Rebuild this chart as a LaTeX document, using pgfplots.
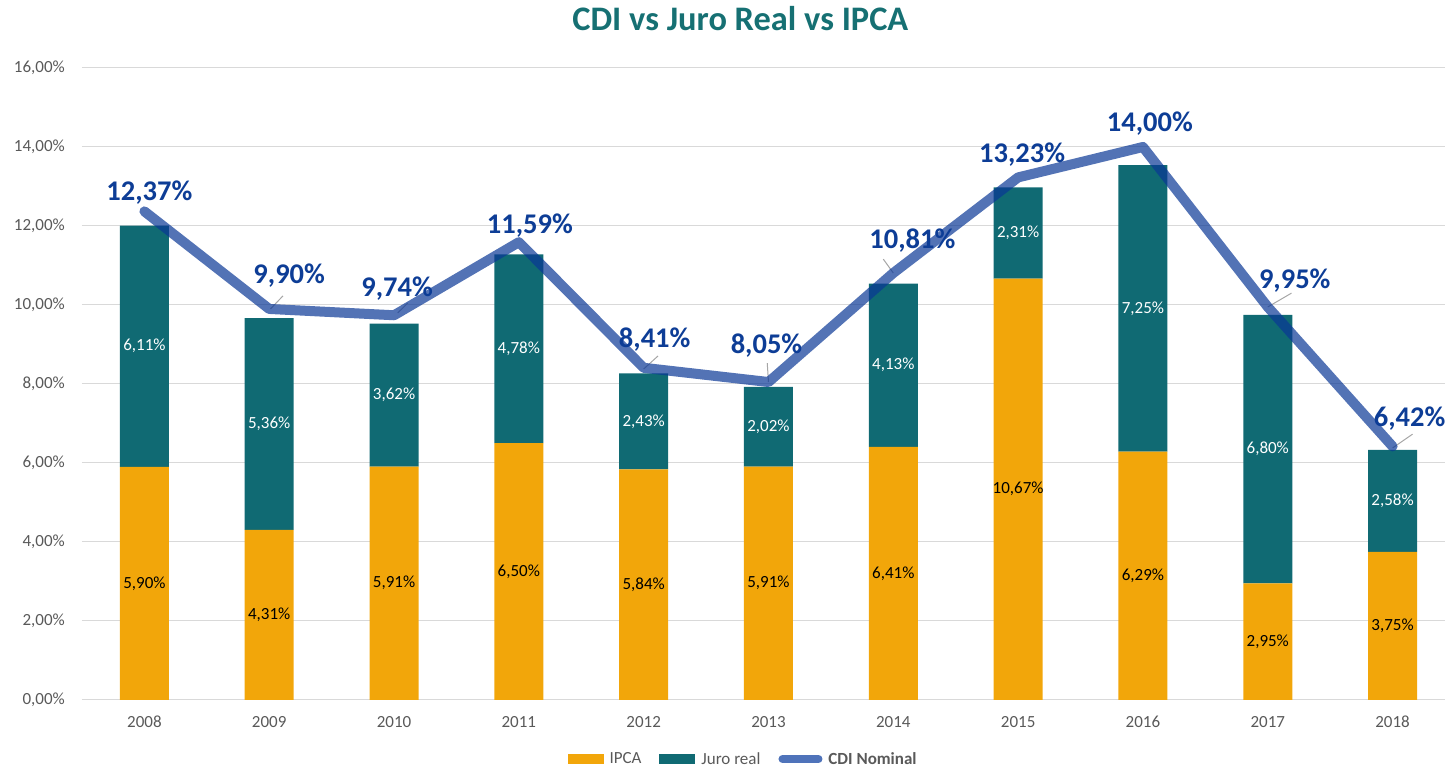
\documentclass[border=0pt]{standalone}
\usepackage{pgfplots}
\pgfplotsset{compat=1.18}
\usepackage{pgfplotstable}
\usepackage{fontspec}
\setmainfont{Carlito}

\definecolor{ipcaC}{RGB}{242,166,10}
\definecolor{juroC}{RGB}{16,106,115}
\definecolor{cdiC}{RGB}{10,55,150}
\definecolor{cdiLeg}{RGB}{79,115,186}
\definecolor{cdiLab}{RGB}{13,61,150}
\definecolor{titleC}{RGB}{22,112,115}
\definecolor{gridC}{RGB}{217,217,217}
\definecolor{txtC}{RGB}{89,89,89}
\definecolor{leadC}{RGB}{166,166,166}

% dx, dy: label offset from the CDI point (pt)
\pgfplotstableread{
x ipca juro cdi dx dy
0 5.90 6.11 12.37 5 19
1 4.31 5.36 9.90 20 33
2 5.91 3.62 9.74 3 27
3 6.50 4.78 11.59 11 17
4 5.84 2.43 8.41 11 28
5 5.91 2.02 8.05 -2 36
6 6.41 4.13 10.81 19 32
7 10.67 2.31 13.23 4 23
8 6.29 7.25 14.00 7 23
9 2.95 6.80 9.95 27 26
10 3.75 2.58 6.42 17 28
}\data

\pgfplotsset{
  /pgf/number format/.cd, fixed, fixed zerofill, precision=2, use comma, assume math mode=true,
  /pgfplots/.cd,
  base/.style={
    scale only axis, width=1363pt, height=632pt,
    at={(0pt,0pt)}, anchor=south west,
    xmin=-0.5, xmax=10.42, ymin=0, ymax=16,
    clip=false,
  },
  vlabels/.style={point meta=explicit,
    nodes near coords={\pgfmathprintnumber{\pgfplotspointmeta}\%}},
  leader/.style={leadC, line width=1pt, mark=none, forget plot},
}

\begin{document}
\begin{tikzpicture}
\begin{axis}[
    base,
    ybar stacked,
    bar width=49pt,
    axis line style={draw=none},
    major tick length=0pt,
    ymajorgrids=true,
    grid style={gridC, line width=1pt},
    ytick={0,2,...,16},
    yticklabel={\pgfmathprintnumber{\tick}\%},
    xtick={0,...,10},
    xticklabels={2008,2009,2010,2011,2012,2013,2014,2015,2016,2017,2018},
    ticklabel style={font=\fontsize{17}{19}\selectfont, text=txtC},
    yticklabel style={anchor=east, inner sep=0pt, xshift=-17pt},
    xticklabel style={anchor=north, inner sep=0pt, yshift=-16pt},
    title={CDI vs Juro Real vs IPCA},
    title style={font=\fontsize{34.4}{38}\selectfont\bfseries, text=titleC,
      at={(0.483,1)}, anchor=center, yshift=43pt},
    legend columns=-1,
    legend style={draw=none, fill=none, inner sep=0pt,
      at={(0.485,0)}, anchor=center, yshift=-59pt,
      font=\fontsize{17}{19}\selectfont, text=txtC,
      /tikz/every odd column/.append style={column sep=4pt},
      /tikz/every even column/.append style={column sep=16pt}},
]
\addplot[fill=ipcaC, draw=none,
    legend image code/.code={\fill[ipcaC] (0pt,-5pt) rectangle (36pt,5pt);}]
    table[x=x, y=ipca] {\data};
\addlegendentry{IPCA}
\addplot[fill=juroC, draw=none,
    legend image code/.code={\fill[juroC] (0pt,-5pt) rectangle (36pt,5pt);}]
    table[x=x, y=juro] {\data};
\addlegendentry{Juro real}
\addlegendimage{legend image code/.code={\draw[cdiLeg, line width=8pt, line cap=round] (4pt,0pt) -- (40pt,0pt);}}
\addlegendentry{\textbf{CDI Nominal}}
\end{axis}

\begin{axis}[
    base,
    hide axis,
]
% value labels in the middle of each bar segment
\addplot[draw=none, mark=none, vlabels,
    nodes near coords style={font=\fontsize{17}{19}\selectfont, text=black, anchor=center}]
    table[x=x, y expr=\thisrow{ipca}/2, meta=ipca] {\data};
\addplot[draw=none, mark=none, vlabels,
    nodes near coords style={font=\fontsize{17}{19}\selectfont, text=white, anchor=center}]
    table[x=x, y expr=\thisrow{ipca}+\thisrow{juro}/2, meta=juro] {\data};
% leader lines from CDI labels
\addplot[leader] coordinates {(1.01,9.90) (1.11,10.23)};
\addplot[leader] coordinates {(2.03,9.80) (2.11,10.05)};
\addplot[leader] coordinates {(4.00,8.38) (4.115,8.71)};
\addplot[leader] coordinates {(5.00,8.05) (4.99,8.53)};
\addplot[leader] coordinates {(6.00,10.81) (5.92,11.16)};
\addplot[leader] coordinates {(9.00,9.95) (9.19,10.30)};
\addplot[leader] coordinates {(10.0,6.38) (10.16,6.73)};
% CDI line
\addplot[draw=cdiC, draw opacity=0.7, line width=10pt, line cap=round, line join=round, mark=none,
    vlabels,
    visualization depends on={\thisrow{dx}\as\dx},
    visualization depends on={\thisrow{dy}\as\dy},
    nodes near coords style={font=\fontsize{28.5}{30}\selectfont\bfseries, text=cdiLab,
      anchor=center, xshift=\dx pt, yshift=\dy pt}]
    table[x=x, y=cdi, meta=cdi] {\data};
\end{axis}
\pgfresetboundingbox
\useasboundingbox (-82pt,-67pt) rectangle (1363pt,700pt);
\end{tikzpicture}
\end{document}
